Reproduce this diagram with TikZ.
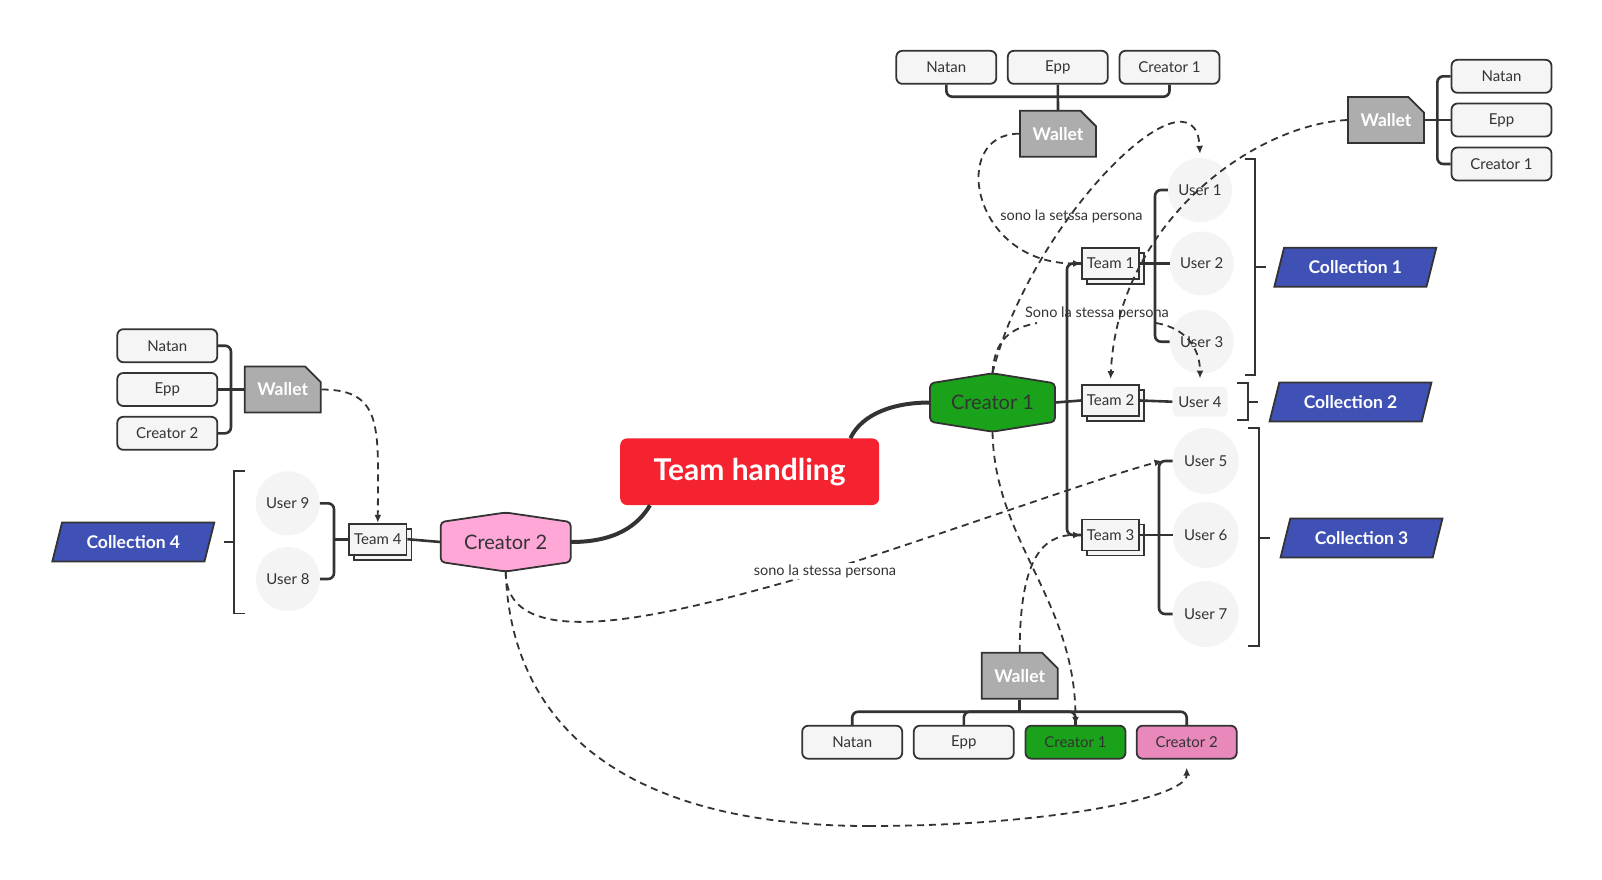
\documentclass[tikz,border=0pt]{standalone}
\usepackage{fontspec}
\setmainfont{Lato}
\usetikzlibrary{shapes.geometric,shapes.misc,shadows,arrows.meta,calc}
\definecolor{ink}{RGB}{51,51,51}
\definecolor{boxgray}{RGB}{245,245,245}
\definecolor{usergray}{RGB}{244,244,244}
\definecolor{walletgray}{RGB}{173,173,173}
\definecolor{collblue}{RGB}{64,81,181}
\definecolor{greenc}{RGB}{26,163,26}
\definecolor{pinkhex}{RGB}{255,168,216}
\definecolor{pinkbox}{RGB}{233,137,187}
\definecolor{thred}{RGB}{245,34,47}
\begin{document}
\begin{tikzpicture}[x=1pt,y=-1pt,
  box/.style={draw=ink, line width=1.8pt, fill=boxgray, rounded corners=6pt, minimum width=100pt, minimum height=33pt, inner sep=0pt, font=\fontsize{15}{18}\selectfont, text=ink},
  wallet/.style={chamfered rectangle, chamfered rectangle corners=north east, chamfered rectangle xsep=9pt, chamfered rectangle ysep=9pt, draw=ink, line width=1.8pt, fill=walletgray, minimum width=76pt, minimum height=46pt, inner sep=0pt, text=white, font=\bfseries\fontsize{17.5}{20}\selectfont},
  teambox/.style={draw=ink, line width=1.8pt, fill=boxgray, minimum height=31pt, inner xsep=5pt, inner ysep=2pt, font=\fontsize{15}{18}\selectfont, text=ink, copy shadow={shadow xshift=5pt, shadow yshift=-5pt, draw=ink, fill=boxgray, line width=1.8pt}},
  user/.style={circle, fill=usergray, minimum size=64pt, inner sep=0pt, font=\fontsize{15}{18}\selectfont, text=ink},
  coll/.style={trapezium, trapezium left angle=64, trapezium right angle=116, trapezium stretches=true, minimum width=162pt, minimum height=39pt, draw=ink, line width=1.8pt, fill=collblue, text=white, font=\bfseries\fontsize{17.5}{20}\selectfont, inner sep=0pt},
  hexs/.style={draw=ink, line width=1.8pt, rounded corners=4pt},
  hexlabel/.style={minimum width=125pt, minimum height=58.4pt, inner sep=0pt, font=\fontsize{20}{24}\selectfont, text=ink},
  branch/.style={draw=ink, line width=2.6pt, rounded corners=6pt},
  thinline/.style={draw=ink, line width=1.8pt},
  mainline/.style={draw=ink, line width=4pt},
  relline/.style={draw=ink, line width=1.8pt, dash pattern=on 7pt off 5pt},
  rel/.style={relline, -{Latex[length=8pt,width=7pt]}},
  lbl/.style={font=\fontsize{14.5}{17}\selectfont, text=ink, inner sep=1pt}
]
\useasboundingbox (0,0) rectangle (1602,879);

% ---------- Top wallet group
\node[box] (tNatan) at (946.3,67.3) {Natan};
\node[box] (tEpp) at (1057.8,67.3) {Epp};
\node[box] (tCr) at (1169.5,67.3) {Creator 1};
\node[wallet] (tW) at (1058,133.7) {Wallet};
\coordinate (tbar) at (1058,96.7);
\draw[branch] (tW.north) -- (tEpp.south);
\draw[branch] (tbar) -| (tNatan.south);
\draw[branch] (tbar) -| (tCr.south);

% ---------- Right wallet group
\node[wallet] (rW) at (1386,120) {Wallet};
\node[box] (rNatan) at (1501.5,76.3) {Natan};
\node[box] (rEpp) at (1501.5,120) {Epp};
\node[box] (rCr) at (1501.5,164) {Creator 1};
\coordinate (rbar) at (1437.3,120);
\draw[branch] (rW.east) -- (rEpp.west);
\draw[branch] (rbar) |- (rNatan.west);
\draw[branch] (rbar) |- (rCr.west);

% ---------- Left wallet group
\node[box] (lNatan) at (167.3,345.7) {Natan};
\node[box] (lEpp) at (167.3,389.5) {Epp};
\node[box] (lCr) at (167.3,433.3) {Creator 2};
\node[wallet] (lW) at (282.7,389.5) {Wallet};
\coordinate (lbar) at (231,389.5);
\draw[branch] (lW.west) -- (lEpp.east);
\draw[branch] (lbar) |- (lNatan.east);
\draw[branch] (lbar) |- (lCr.east);

% ---------- Bottom wallet group
\node[wallet] (bW) at (1019.7,675.7) {Wallet};
\node[box] (bNatan) at (852.2,742.2) {Natan};
\node[box] (bEpp) at (963.8,742.2) {Epp};
\node[box, fill=greenc] (bCr1) at (1075.5,742.2) {Creator 1};
\node[box, fill=pinkbox] (bCr2) at (1186.7,742.2) {Creator 2};
\coordinate (bbar) at (1019.7,711.7);
\draw[branch] (bW.south) -- (bbar);
\draw[branch] (bbar) -| (bNatan.north);
\draw[branch] (bbar) -| (bEpp.north);
\draw[branch] (bbar) -| (bCr1.north);
\draw[branch] (bbar) -| (bCr2.north);

% ---------- Central topic
\node[fill=thred, rounded corners=7pt, minimum width=259pt, minimum height=66.7pt, inner sep=0pt, text=white, font=\bfseries\fontsize{30}{36}\selectfont] (th) at (749.7,471.7) {Team handling};

% ---------- Creators (hexagons)
\filldraw[hexs, fill=greenc] (930,383.3) -- (992.5,373.3) -- (1055,383.3) -- (1055,421.7) -- (992.5,431.7) -- (930,421.7) -- cycle;
\node[hexlabel] (c1) at (992.5,402.5) {Creator 1};
\filldraw[hexs, fill=pinkhex] (440.7,522) -- (505.7,512.5) -- (570.7,522) -- (570.7,562) -- (505.7,571.5) -- (440.7,562) -- cycle;
\node[hexlabel, minimum width=130pt, minimum height=59pt] (c2) at (505.7,542) {Creator 2};

\draw[mainline] ([xshift=-29pt]th.north east) .. controls +(12,-25) and +(-35,0) .. (c1.west);
\draw[mainline] (c2.east) .. controls +(45,0) and +(-12,20) .. ([xshift=30pt]th.south west);

% ---------- Left team
\node[teambox, anchor=west] (t4) at (348.3,539.2) {Team 4};
\draw[branch] (c2.west) -- (t4.east);
\node[user] (u9) at (287.7,503.3) {User 9};
\node[user] (u8) at (288,579) {User 8};
\coordinate (t4bar) at (334,539.2);
\draw[branch] (t4.west) -- (t4bar);
\draw[branch] (t4bar) |- (u9.east);
\draw[branch] (t4bar) |- (u8.east);
\node[coll] (col4) at (133.3,542) {Collection 4};
\coordinate (b4a) at (245,471);
\coordinate (b4b) at (234,471);
\coordinate (b4c) at (234,613.5);
\coordinate (b4d) at (245,613.5);
\coordinate (b4m) at (234,541.7);
\coordinate (b4t) at (224,541.7);
\draw[thinline] (b4a) -- (b4b) -- (b4c) -- (b4d);
\draw[thinline] (b4m) -- (b4t);

% ---------- Right teams
\node[teambox, anchor=west] (t1) at (1081,263.5) {Team 1};
\node[teambox, anchor=west] (t2) at (1081,400.5) {Team 2};
\node[teambox, anchor=west] (t3) at (1081,535) {Team 3};
\coordinate (c1bar) at (1067,400.5);
\draw[branch] (c1.east) -- (t2.west);
\draw[branch] (c1bar) |- (t1.west);
\draw[branch] (c1bar) |- (t3.west);

\node[user] (u1) at (1200,190) {User 1};
\node[user] (u2) at (1201.7,263.5) {User 2};
\node[user] (u3) at (1201.7,341.7) {User 3};
\node[fill=usergray, rounded corners=5pt, minimum width=55pt, minimum height=30pt, inner sep=0pt, font=\fontsize{15}{18}\selectfont, text=ink] (u4) at (1200,401.7) {User 4};
\node[user, minimum size=66pt] (u5) at (1205.7,461) {User 5};
\node[user, minimum size=66pt] (u6) at (1205.7,535) {User 6};
\node[user, minimum size=66pt] (u7) at (1205.7,614) {User 7};

\coordinate (t1bar) at (1155,263.5);
\draw[branch] (t1.east) -- (u2.west);
\draw[branch] (t1bar) |- (u1.west);
\draw[branch] (t1bar) |- (u3.west);
\draw[branch] (t2.east) -- (u4.west);
\coordinate (t3bar) at (1159,535);
\draw[branch] (t3.east) -- (u6.west);
\draw[branch] (t3bar) |- (u5.west);
\draw[branch] (t3bar) |- (u7.west);

% ---------- Collections right
\node[coll] (col1) at (1355.3,267.2) {Collection 1};
\node[coll] (col2) at (1350.5,402) {Collection 2};
\node[coll] (col3) at (1361.5,538) {Collection 3};
\coordinate (b1a) at (1245,159);
\coordinate (b1b) at (1255,159);
\coordinate (b1c) at (1255,375.3);
\coordinate (b1d) at (1245,375.3);
\coordinate (b1m) at (1255,266.7);
\coordinate (b1t) at (1265.7,266.7);
\draw[thinline] (b1a) -- (b1b) -- (b1c) -- (b1d);
\draw[thinline] (b1m) -- (b1t);
\coordinate (b2a) at (1237,383);
\coordinate (b2b) at (1248,383);
\coordinate (b2c) at (1248,420);
\coordinate (b2d) at (1237,420);
\coordinate (b2m) at (1248,401.7);
\coordinate (b2t) at (1258,401.7);
\draw[thinline] (b2a) -- (b2b) -- (b2c) -- (b2d);
\draw[thinline] (b2m) -- (b2t);
\coordinate (b3a) at (1248,428);
\coordinate (b3b) at (1259,428);
\coordinate (b3c) at (1259,646);
\coordinate (b3d) at (1248,646);
\coordinate (b3m) at (1259,537.7);
\coordinate (b3t) at (1270,537.7);
\draw[thinline] (b3a) -- (b3b) -- (b3c) -- (b3d);
\draw[thinline] (b3m) -- (b3t);

% ---------- Relationships (dashed)
% wallet top -> Team 1
\draw[rel] (tW.west) .. controls +(-70,0) and +(-110,0) .. (t1.west);
\node[lbl] (lab1) at (1071.5,216.7) {sono la setssa persona};

% Creator 1 -> User 4 (label)
\node[lbl] (lab3) at (1097,313.3) {Sono la stessa persona};
\coordinate (r3a) at (1037,323);
\coordinate (r3b) at (1156,323);
\draw[relline] (c1.north) .. controls +(2,-35) and +(-25,5) .. (r3a);
\draw[rel] (r3b) .. controls +(30,5) and +(0,-30) .. ([yshift=8pt]u4.north);

% Creator 1 -> User 1
\draw[rel] (c1.north) .. controls +(38,-153) and +(-5,-95) .. ([yshift=4pt]u1.north);

% right wallet -> Team 2
\draw[rel] (rW.west) .. controls +(-95,5) and +(7,-155) .. ([yshift=5pt]t2.north);

% Creator 2 -> User 5
\coordinate (m5) at (825,571);
\draw[relline] (c2.south) .. controls +(0,90) and +(-140,40) .. (m5);
\draw[rel] (m5) .. controls +(110,-34) and +(-50,12) .. ([xshift=-10pt]u5.west);
\node[lbl, fill=white] (lab5) at (m5) {sono la stessa persona};

% Creator 2 -> bottom Creator 2
\coordinate (m6) at (869,826);
\draw[relline] (c2.south) .. controls +(5,150) and +(-250,0) .. (m6);
\draw[rel] (m6) .. controls +(180,0) and +(0,30) .. ([yshift=-8pt]bCr2.south);

% Creator 1 -> bottom Creator 1
\draw[rel] (c1.south) .. controls +(2,110) and +(0,-125) .. (bCr1.north);

% bottom wallet -> Team 3
\draw[rel] (bW.north) .. controls +(0,-90) and +(-40,0) .. (t3.west);

% left wallet -> Team 4
\draw[rel] (lW.east) .. controls +(63,0) and +(0,-93) .. (t4.north);
\end{tikzpicture}
\end{document}
